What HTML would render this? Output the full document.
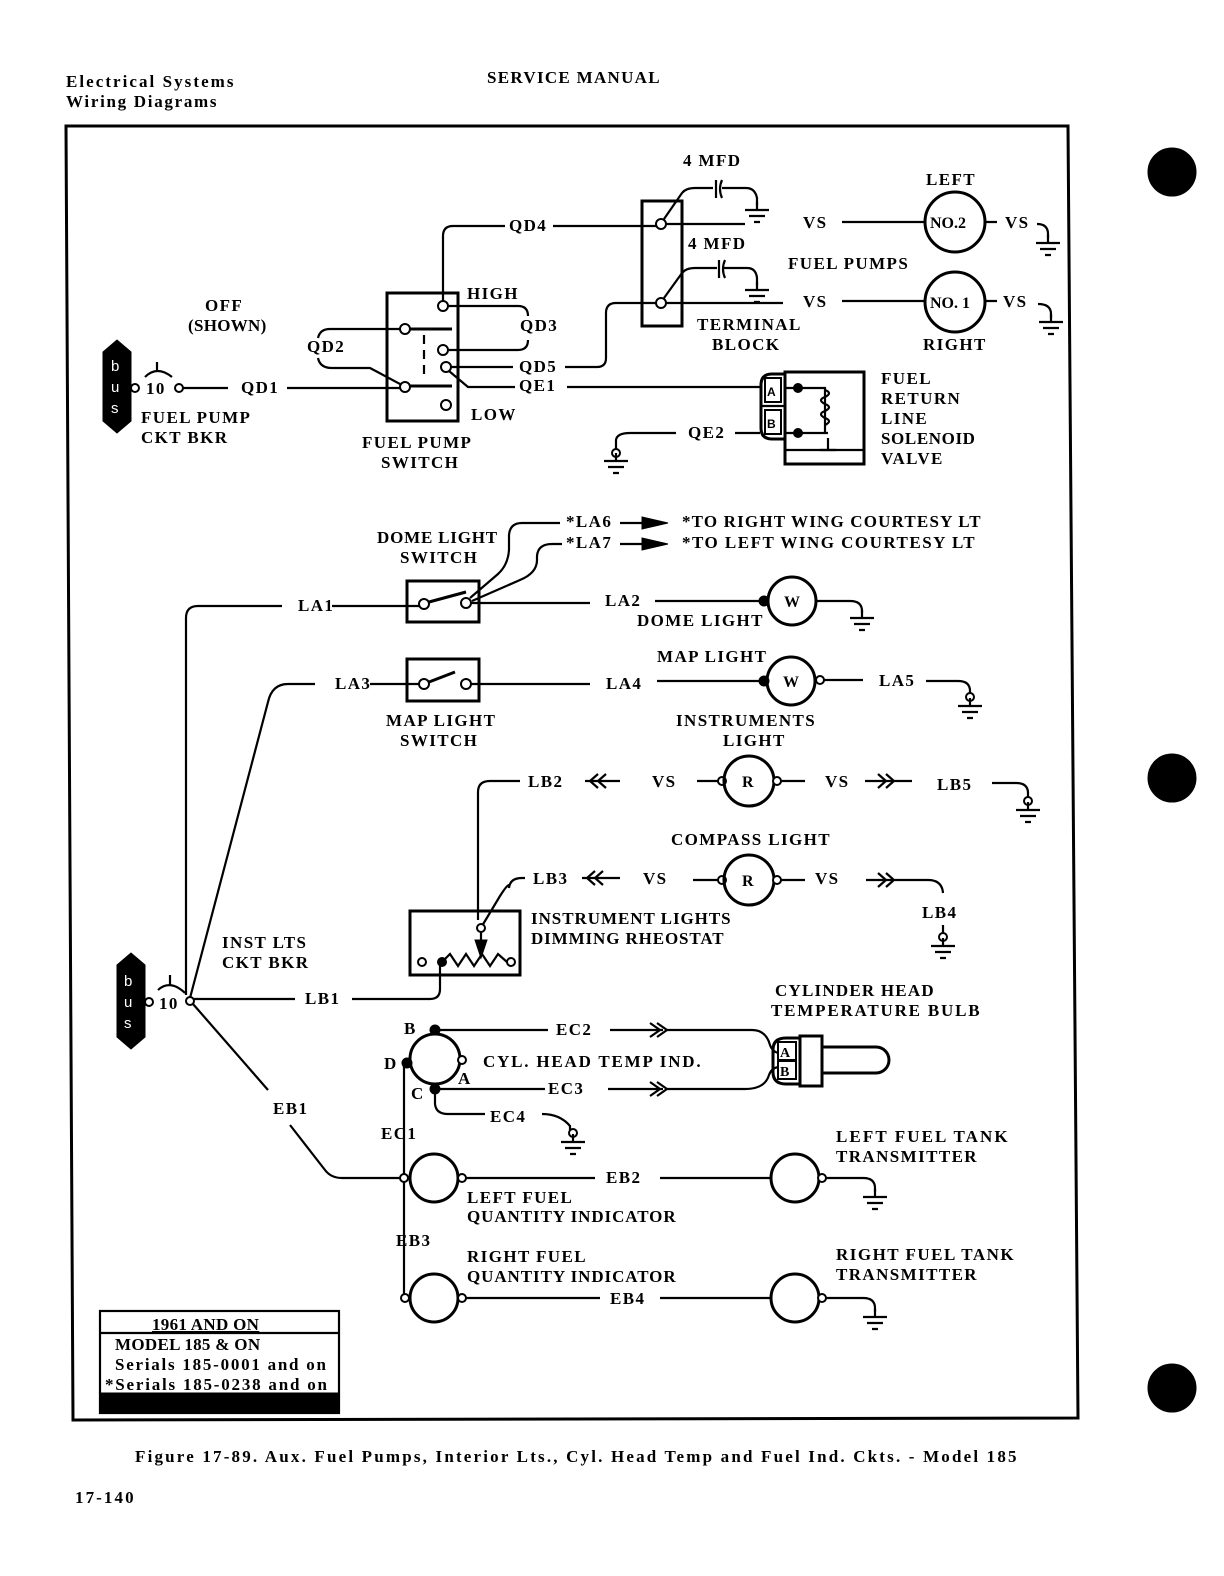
<!DOCTYPE html>
<html><head><meta charset="utf-8"><style>
html,body{margin:0;padding:0;background:#fff;}
svg{display:block;}
text{font-family:"Liberation Serif",serif;font-weight:bold;font-size:17px;fill:#000;letter-spacing:1.4px;}
.s{stroke:#000;stroke-width:2.2;fill:none;}
.b{stroke:#000;stroke-width:3;fill:none;}
.o{stroke:#000;stroke-width:2;fill:#fff;}
.f{fill:#000;stroke:#000;}
</style></head><body>
<svg width="1224" height="1576" viewBox="0 0 1224 1576" xmlns="http://www.w3.org/2000/svg">
<defs>
<g id="gnd"><path d="M0,-8V0M-12,0H12M-8,6H8M-3,12H3" stroke="#000" stroke-width="2.2" fill="none"/></g>
</defs>
<!-- header -->
<text x="66" y="87" textLength="168" style="font-size:17px;letter-spacing:0.5px">Electrical Systems</text>
<text x="66" y="107" textLength="151" style="font-size:17px;letter-spacing:0.5px">Wiring Diagrams</text>
<text x="487" y="83" textLength="174" style="font-size:17px">SERVICE MANUAL</text>
<!-- frame -->
<path d="M66,126 L1068,126 L1078,1418 L73,1420 Z" class="b" stroke-width="3"/>
<circle cx="1172" cy="172" r="24" class="f"/>
<circle cx="1172" cy="778" r="24" class="f"/>
<circle cx="1172" cy="1388" r="24" class="f"/>
<text x="135" y="1462" textLength="882" style="font-size:17px;letter-spacing:0.5px">Figure 17-89.  Aux. Fuel Pumps, Interior Lts., Cyl. Head Temp and Fuel Ind. Ckts. - Model 185</text>
<text x="75" y="1503" textLength="60" style="font-size:17px">17-140</text>

<!-- bus 1 -->
<path d="M103,352 L110,346 L117,340 L124,346 L131,352 V421 L124,427 L117,433 L110,427 L103,421 Z" class="f"/>
<text x="111" y="371" style="fill:#fff;font-weight:normal;font-family:'Liberation Sans',sans-serif;font-size:15px">b</text>
<text x="111" y="392" style="fill:#fff;font-weight:normal;font-family:'Liberation Sans',sans-serif;font-size:15px">u</text>
<text x="111" y="413" style="fill:#fff;font-weight:normal;font-family:'Liberation Sans',sans-serif;font-size:15px">s</text>
<circle cx="135" cy="388" r="4" class="o"/>
<text x="146" y="394">10</text>
<path d="M145,377 Q157,365 172,377 M157,362V371" class="s"/>
<circle cx="179" cy="388" r="4" class="o"/>
<path d="M183,388H228 M287,388H400" class="s"/>
<text x="241" y="393">QD1</text>
<text x="141" y="423">FUEL PUMP</text>
<text x="141" y="443">CKT BKR</text>
<text x="205" y="311">OFF</text>
<text x="188" y="331" style="letter-spacing:0.3px">(SHOWN)</text>

<!-- fuel pump switch -->
<rect x="387" y="293" width="71" height="128" class="b"/>
<path d="M404,329H452 M404,386H452" class="b"/>
<path d="M424,335V378" class="s" stroke-dasharray="9,6"/>
<circle cx="443" cy="306" r="5" class="o"/>
<circle cx="405" cy="329" r="5" class="o"/>
<circle cx="443" cy="350" r="5" class="o"/>
<circle cx="446" cy="367" r="5" class="o"/>
<circle cx="405" cy="387" r="5" class="o"/>
<circle cx="446" cy="405" r="5" class="o"/>
<text x="467" y="299">HIGH</text>
<text x="471" y="420">LOW</text>
<text x="362" y="448">FUEL PUMP</text>
<text x="381" y="468">SWITCH</text>
<!-- QD4 -->
<path d="M443,301V236 Q443,226 453,226 H505 M553,226H661" class="s"/>
<text x="509" y="231">QD4</text>
<!-- QD3 -->
<path d="M448,306H518 Q528,306 528,316 M528,340 Q528,350 518,350 H448" class="s"/>
<text x="520" y="331">QD3</text>
<!-- QD2 -->
<path d="M400,329H330 Q320,329 318,338 M318,358 Q320,368 332,368 H370 L400,384" class="s"/>
<text x="307" y="352">QD2</text>
<!-- QD5 / QE1 -->
<path d="M451,367H513 M565,367H597 Q606,367 606,358 V313 Q606,303 616,303 H661" class="s"/>
<text x="519" y="372">QD5</text>
<path d="M449,371 L468,387 H515 M567,387H760" class="s"/>
<text x="519" y="391">QE1</text>

<!-- terminal block -->
<rect x="642" y="201" width="40" height="125" class="b"/>
<circle cx="661" cy="224" r="5" class="o"/>
<circle cx="661" cy="303" r="5" class="o"/>
<path d="M666,224H745 M842,222H925" class="s"/>
<path d="M664,219 L682,193 Q686,188 695,188 H713 M722,188H746 Q755,188 757,198 V205" class="s"/>
<path d="M716,180V198 M722,180Q718,189 722,198" class="s"/>
<use href="#gnd" x="757" y="210"/>
<text x="683" y="166">4 MFD</text>
<path d="M666,303H783 M842,301H925" class="s"/>
<path d="M664,298 L682,273 Q686,268 695,268 H717 M723,268H747 Q756,268 757,278 V285" class="s"/>
<path d="M719,260V278 M725,260Q721,269 725,278" class="s"/>
<use href="#gnd" x="757" y="290"/>
<text x="688" y="249">4 MFD</text>
<text x="803" y="228">VS</text>
<text x="803" y="307">VS</text>
<text x="788" y="269">FUEL PUMPS</text>
<text x="697" y="330">TERMINAL</text>
<text x="712" y="350">BLOCK</text>
<circle cx="955" cy="222" r="30" class="b"/>
<text x="930" y="228" style="font-size:16px;letter-spacing:0">NO.2</text>
<circle cx="955" cy="302" r="30" class="b"/>
<text x="930" y="308" style="font-size:16px;letter-spacing:0">NO. 1</text>
<text x="926" y="185">LEFT</text>
<text x="923" y="350">RIGHT</text>
<path d="M985,222H997 M985,301H997" class="s"/>
<text x="1005" y="228">VS</text>
<text x="1003" y="307">VS</text>
<path d="M1037,224 Q1048,224 1048,234 V238" class="s"/><use href="#gnd" x="1048" y="243"/>
<path d="M1038,304 Q1051,304 1051,314 V318" class="s"/><use href="#gnd" x="1051" y="322"/>

<!-- solenoid -->
<rect x="785" y="372" width="79" height="92" class="b"/>
<path d="M785,450H864" class="s"/>
<path d="M785,374 H772 Q761,374 761,385 V428 Q761,439 772,439 H785 Z" class="b"/>
<path d="M761,406H785" class="s"/>
<rect x="765" y="378" width="16" height="24" class="o"/>
<rect x="765" y="410" width="16" height="24" class="o"/>
<text x="767" y="396" style="font-family:'Liberation Sans',sans-serif;font-size:12px;letter-spacing:0">A</text>
<text x="767" y="428" style="font-family:'Liberation Sans',sans-serif;font-size:12px;letter-spacing:0">B</text>
<circle cx="798" cy="388" r="4.5" class="f"/>
<circle cx="798" cy="433" r="4.5" class="f"/>
<path d="M785,388H825 V432 M785,433H828" class="s"/>
<path d="M825,390 q8,3 0,7 q-8,3 0,7 q8,3 0,7 q-8,3 0,7 q8,3 0,7" class="s"/>
<path d="M828,438V450 M820,450H836" class="s"/>
<text x="881" y="384">FUEL</text>
<text x="881" y="404">RETURN</text>
<text x="881" y="424">LINE</text>
<text x="881" y="444" style="letter-spacing:0.6px">SOLENOID</text>
<text x="881" y="464">VALVE</text>
<path d="M616,449 V440 Q617,433 630,433 H676 M735,433H760" class="s"/>
<circle cx="616" cy="453" r="4" class="o"/><use href="#gnd" x="616" y="461"/>
<text x="688" y="438">QE2</text>

<!-- dome light -->
<text x="377" y="543" style="letter-spacing:0.8px">DOME LIGHT</text>
<text x="400" y="563">SWITCH</text>
<rect x="407" y="581" width="72" height="41" class="b"/>
<circle cx="424" cy="604" r="5" class="o"/>
<circle cx="466" cy="603" r="5" class="o"/>
<path d="M429,602 L466,592" class="b"/>
<path d="M186,995 V618 Q186,606 198,606 H282 M332,606H419" class="s"/>
<text x="298" y="611">LA1</text>
<path d="M471,603H590" class="s"/>
<text x="605" y="606">LA2</text>
<path d="M655,601H763" class="s"/>
<circle cx="764" cy="601" r="5" class="f"/>
<circle cx="792" cy="601" r="24" class="b"/>
<text x="784" y="607" style="font-size:16px;letter-spacing:0">W</text>
<path d="M816,601H850 Q862,601 862,611 V613" class="s"/><use href="#gnd" x="862" y="618"/>
<text x="637" y="626">DOME LIGHT</text>
<path d="M470,598 L498,574 Q508,565 509,550 V535 Q510,523 522,523 H560" class="s"/>
<path d="M472,601 L520,580 Q537,573 537,560 V556 Q538,544 552,544 H562" class="s"/>
<text x="566" y="527">*LA6</text>
<text x="566" y="548">*LA7</text>
<path d="M620,523H645 M620,544H645" class="s"/>
<path d="M642,517 L668,523 L642,529 Z M642,538 L668,544 L642,550 Z" class="f"/>
<text x="682" y="527" textLength="300">*TO RIGHT WING COURTESY LT</text>
<text x="682" y="548" textLength="294">*TO LEFT WING COURTESY LT</text>

<!-- map light -->
<rect x="407" y="659" width="72" height="42" class="b"/>
<circle cx="424" cy="684" r="5" class="o"/>
<circle cx="466" cy="684" r="5" class="o"/>
<path d="M429,682 L455,672" class="b"/>
<path d="M190,998 L268,702 Q272,684 288,684 H315 M370,684H419 M471,684H590" class="s"/>
<text x="335" y="689">LA3</text>
<text x="606" y="689">LA4</text>
<path d="M657,681H763" class="s"/>
<circle cx="764" cy="681" r="5" class="f"/>
<circle cx="791" cy="681" r="24" class="b"/>
<text x="783" y="687" style="font-size:16px;letter-spacing:0">W</text>
<circle cx="820" cy="680" r="4" class="o"/>
<path d="M824,680H863 M926,681 H958 Q970,681 970,691 V694" class="s"/>
<circle cx="970" cy="697" r="4" class="o"/><use href="#gnd" x="970" y="706"/>
<text x="879" y="686">LA5</text>
<text x="657" y="662">MAP LIGHT</text>
<text x="386" y="726">MAP LIGHT</text>
<text x="400" y="746">SWITCH</text>
<text x="676" y="726">INSTRUMENTS</text>
<text x="723" y="746">LIGHT</text>

<!-- LB2 / LB5 -->
<path d="M478,920 V792 Q478,781 490,781 H520" class="s"/>
<text x="528" y="787">LB2</text>
<path d="M585,781H620 M598,774 L590,781 L598,788 M606,774 L598,781 L606,788" class="s"/>
<text x="652" y="787">VS</text>
<path d="M697,781H718" class="s"/>
<circle cx="722" cy="781" r="4" class="o"/>
<circle cx="749" cy="781" r="25" class="b"/>
<text x="742" y="787" style="font-size:16px;letter-spacing:0">R</text>
<circle cx="777" cy="781" r="4" class="o"/>
<path d="M781,781H805" class="s"/>
<text x="825" y="787">VS</text>
<path d="M865,781H912 M878,774 L886,781 L878,788 M886,774 L894,781 L886,788" class="s"/>
<text x="937" y="790">LB5</text>
<path d="M992,783 H1016 Q1028,783 1028,793 V797" class="s"/>
<circle cx="1028" cy="801" r="4" class="o"/><use href="#gnd" x="1028" y="810"/>
<text x="671" y="845">COMPASS LIGHT</text>
<!-- LB3 / LB4 -->
<path d="M482,926 L500,896 Q507,885 509,885 V888 Q510,878 522,878 H525" class="s"/>
<text x="533" y="884">LB3</text>
<path d="M582,878H620 M595,871 L587,878 L595,885 M603,871 L595,878 L603,885" class="s"/>
<text x="643" y="884">VS</text>
<path d="M693,880H718" class="s"/>
<circle cx="722" cy="880" r="4" class="o"/>
<circle cx="749" cy="880" r="25" class="b"/>
<text x="742" y="886" style="font-size:16px;letter-spacing:0">R</text>
<circle cx="777" cy="880" r="4" class="o"/>
<path d="M781,880H805" class="s"/>
<text x="815" y="884">VS</text>
<path d="M866,880H928 Q942,880 943,893 M878,873 L886,880 L878,887 M886,873 L894,880 L886,887" class="s"/>
<text x="922" y="918">LB4</text>
<circle cx="943" cy="937" r="4" class="o"/><use href="#gnd" x="943" y="946"/>
<path d="M943,925V933" class="s"/>

<!-- rheostat -->
<rect x="410" y="911" width="110" height="64" class="b"/>
<circle cx="422" cy="962" r="4" class="o"/>
<circle cx="442" cy="962" r="4.5" class="f"/>
<circle cx="511" cy="962" r="4" class="o"/>
<path d="M442,962 L450,954 L458,966 L466,954 L474,966 L482,954 L490,966 L498,954 L507,962" class="s"/>
<circle cx="481" cy="928" r="4" class="o"/>
<path d="M481,932V948" class="s"/>
<path d="M475,940 L481,958 L487,940 Z" class="f"/>
<text x="531" y="924" textLength="201">INSTRUMENT LIGHTS</text>
<text x="531" y="944" textLength="194">DIMMING RHEOSTAT</text>

<!-- bus 2 -->
<path d="M117,965 L124,959 L131,953 L138,959 L145,965 V1037 L138,1043 L131,1049 L124,1043 L117,1037 Z" class="f"/>
<text x="124" y="986" style="fill:#fff;font-weight:normal;font-family:'Liberation Sans',sans-serif;font-size:15px">b</text>
<text x="124" y="1007" style="fill:#fff;font-weight:normal;font-family:'Liberation Sans',sans-serif;font-size:15px">u</text>
<text x="124" y="1028" style="fill:#fff;font-weight:normal;font-family:'Liberation Sans',sans-serif;font-size:15px">s</text>
<circle cx="149" cy="1002" r="4" class="o"/>
<text x="159" y="1009">10</text>
<path d="M158,990 Q170,979 185,993 M170,975V985" class="s"/>
<circle cx="190" cy="1001" r="4" class="o"/>
<text x="222" y="948">INST LTS</text>
<text x="222" y="968">CKT BKR</text>
<path d="M194,999H295 M352,999H430 Q440,999 440,989 V966" class="s"/>
<text x="305" y="1004">LB1</text>
<path d="M193,1004 L268,1090 M290,1125 L325,1170 Q331,1178 342,1178 H405" class="s"/>
<text x="273" y="1114">EB1</text>

<!-- CHT indicator -->
<circle cx="435" cy="1059" r="25" class="b"/>
<circle cx="435" cy="1030" r="5" class="f"/>
<circle cx="407" cy="1063" r="5" class="f"/>
<circle cx="435" cy="1089" r="5" class="f"/>
<circle cx="462" cy="1060" r="4" class="o"/>
<text x="404" y="1034">B</text>
<text x="384" y="1069">D</text>
<text x="458" y="1084">A</text>
<text x="411" y="1099">C</text>
<path d="M440,1030H548 M610,1030H650 Q 656,1030 663,1030 M650,1023 L660,1030 L650,1037 M657,1023 L667,1030 L657,1037 M665,1030H752 Q766,1030 770,1045 Q773,1053 780,1053" class="s"/>
<text x="556" y="1035">EC2</text>
<text x="483" y="1067" textLength="219">CYL. HEAD TEMP IND.</text>
<path d="M440,1089H545 M608,1089H663 M650,1082 L660,1089 L650,1096 M657,1082 L667,1089 L657,1096 M665,1089H745 Q765,1089 769,1075 Q772,1067 780,1067" class="s"/>
<text x="548" y="1094">EC3</text>
<path d="M435,1094 V1104 Q436,1114 448,1114 H485 M542,1114 Q560,1114 570,1126 V1130" class="s"/>
<text x="490" y="1122">EC4</text>
<circle cx="573" cy="1133" r="4" class="o"/><use href="#gnd" x="573" y="1142"/>
<!-- bulb -->
<path d="M800,1038 H786 Q773,1038 773,1050 V1072 Q773,1084 786,1084 H800 Z" class="b"/>
<rect x="778" y="1042" width="18" height="18" class="o"/>
<rect x="778" y="1061" width="18" height="18" class="o"/>
<text x="780" y="1057" style="font-size:14px;letter-spacing:0">A</text>
<text x="780" y="1076" style="font-size:14px;letter-spacing:0">B</text>
<rect x="800" y="1036" width="22" height="50" class="b"/>
<path d="M822,1047 H876 A13,13 0 0 1 876,1073 H822" class="b"/>
<text x="775" y="996" textLength="160">CYLINDER HEAD</text>
<text x="771" y="1016" textLength="210">TEMPERATURE BULB</text>

<!-- fuel qty -->
<path d="M404,1066 V1300" class="s"/>
<text x="381" y="1139">EC1</text>
<circle cx="404" cy="1178" r="4" class="o"/>
<circle cx="434" cy="1178" r="24" class="b"/>
<circle cx="462" cy="1178" r="4" class="o"/>
<path d="M466,1178H595 M660,1178H770" class="s"/>
<text x="606" y="1183">EB2</text>
<circle cx="795" cy="1178" r="24" class="b"/>
<circle cx="822" cy="1178" r="4" class="o"/>
<path d="M826,1178 H863 Q875,1178 875,1188 V1192" class="s"/><use href="#gnd" x="875" y="1197"/>
<text x="467" y="1203">LEFT FUEL</text>
<text x="467" y="1222" textLength="210">QUANTITY INDICATOR</text>
<text x="836" y="1142" textLength="173">LEFT FUEL TANK</text>
<text x="836" y="1162">TRANSMITTER</text>
<text x="396" y="1246">EB3</text>
<circle cx="405" cy="1298" r="4" class="o"/>
<circle cx="434" cy="1298" r="24" class="b"/>
<circle cx="462" cy="1298" r="4" class="o"/>
<path d="M466,1298H600 M660,1298H770" class="s"/>
<text x="610" y="1304">EB4</text>
<circle cx="795" cy="1298" r="24" class="b"/>
<circle cx="822" cy="1298" r="4" class="o"/>
<path d="M826,1298 H863 Q875,1298 875,1308 V1312" class="s"/><use href="#gnd" x="875" y="1317"/>
<text x="467" y="1262">RIGHT FUEL</text>
<text x="467" y="1282" textLength="210">QUANTITY INDICATOR</text>
<text x="836" y="1260" textLength="179">RIGHT FUEL TANK</text>
<text x="836" y="1280">TRANSMITTER</text>

<!-- legend box -->
<rect x="100" y="1311" width="239" height="102" class="s"/>
<path d="M100,1333H339" class="s"/>
<rect x="100" y="1393" width="239" height="20" class="f"/>
<text x="152" y="1330" style="letter-spacing:0.3px;text-decoration:underline">1961 AND ON</text>
<text x="115" y="1350" style="letter-spacing:0.3px">MODEL 185 &amp; ON</text>
<text x="115" y="1370" textLength="211" style="letter-spacing:0">Serials 185-0001 and on</text>
<text x="105" y="1390" textLength="222" style="letter-spacing:0">*Serials 185-0238 and on</text>
</svg>
</body></html>
